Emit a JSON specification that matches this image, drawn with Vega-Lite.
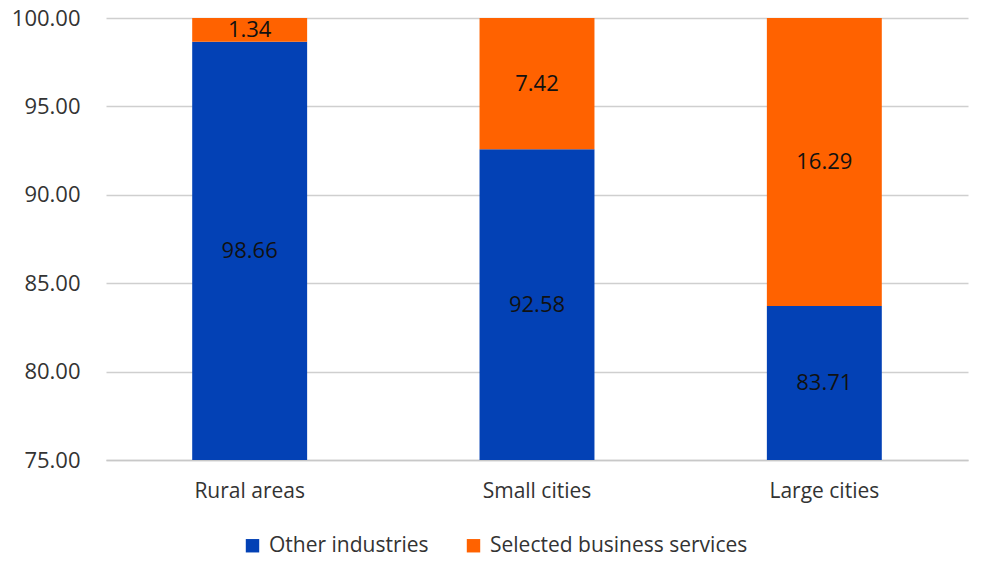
{
  "$schema": "https://vega.github.io/schema/vega-lite/v6.json",
  "width": 862,
  "height": 442,
  "autosize": {"type": "none"},
  "padding": {"left": 106, "top": 18, "right": 26, "bottom": 109},
  "background": "white",
  "config": {
    "font": "Open Sans",
    "view": {"stroke": null},
    "axis": {"labelFont": "Open Sans", "labelColor": "#333333"}
  },
  "data": {
    "values": [
      {"area": "Rural areas", "series": "Other industries", "order": 1, "value": 98.66},
      {"area": "Rural areas", "series": "Selected business services", "order": 2, "value": 1.34},
      {"area": "Small cities", "series": "Other industries", "order": 1, "value": 92.58},
      {"area": "Small cities", "series": "Selected business services", "order": 2, "value": 7.42},
      {"area": "Large cities", "series": "Other industries", "order": 1, "value": 83.71},
      {"area": "Large cities", "series": "Selected business services", "order": 2, "value": 16.29}
    ]
  },
  "transform": [
    {"stack": "value", "groupby": ["area"], "sort": [{"field": "order"}], "as": ["v0", "v1"]},
    {"calculate": "(max(datum.v0, 75) + min(datum.v1, 100)) / 2", "as": "mid"}
  ],
  "encoding": {
    "x": {
      "field": "area",
      "type": "nominal",
      "sort": ["Rural areas", "Small cities", "Large cities"],
      "scale": {"paddingInner": 0.6, "paddingOuter": 0.3},
      "axis": {
        "title": null,
        "labelAngle": 0,
        "labelFontSize": 21,
        "labelPadding": 20,
        "ticks": false,
        "domainColor": "#c8c8c8",
        "domainWidth": 1.5
      }
    }
  },
  "layer": [
    {
      "mark": {"type": "bar", "clip": true},
      "encoding": {
        "y": {
          "field": "v0",
          "type": "quantitative",
          "scale": {"domain": [75, 100], "zero": false, "nice": false},
          "axis": {
            "title": null,
            "values": [75, 80, 85, 90, 95, 100],
            "format": ".2f",
            "labelFontSize": 22,
            "labelPadding": 26,
            "ticks": false,
            "domain": false,
            "gridColor": "#cfcfcf",
            "gridWidth": 1.5
          }
        },
        "y2": {"field": "v1"},
        "color": {
          "field": "series",
          "type": "nominal",
          "scale": {
            "domain": ["Other industries", "Selected business services"],
            "range": ["#0341B5", "#FF6200"]
          },
          "legend": {
            "title": null,
            "orient": "none",
            "legendX": 136,
            "legendY": 517,
            "direction": "horizontal",
            "symbolType": "square",
            "symbolSize": 180,
            "symbolStrokeWidth": 0,
            "labelFontSize": 21,
            "labelLimit": 400,
            "labelColor": "#333333",
            "columnPadding": 34,
            "labelOffset": 6
          }
        }
      }
    },
    {
      "mark": {"type": "text", "fontSize": 22, "color": "#111111", "baseline": "middle"},
      "encoding": {
        "y": {"field": "mid", "type": "quantitative"},
        "text": {"field": "value", "type": "quantitative", "format": ".2f"}
      }
    }
  ]
}
